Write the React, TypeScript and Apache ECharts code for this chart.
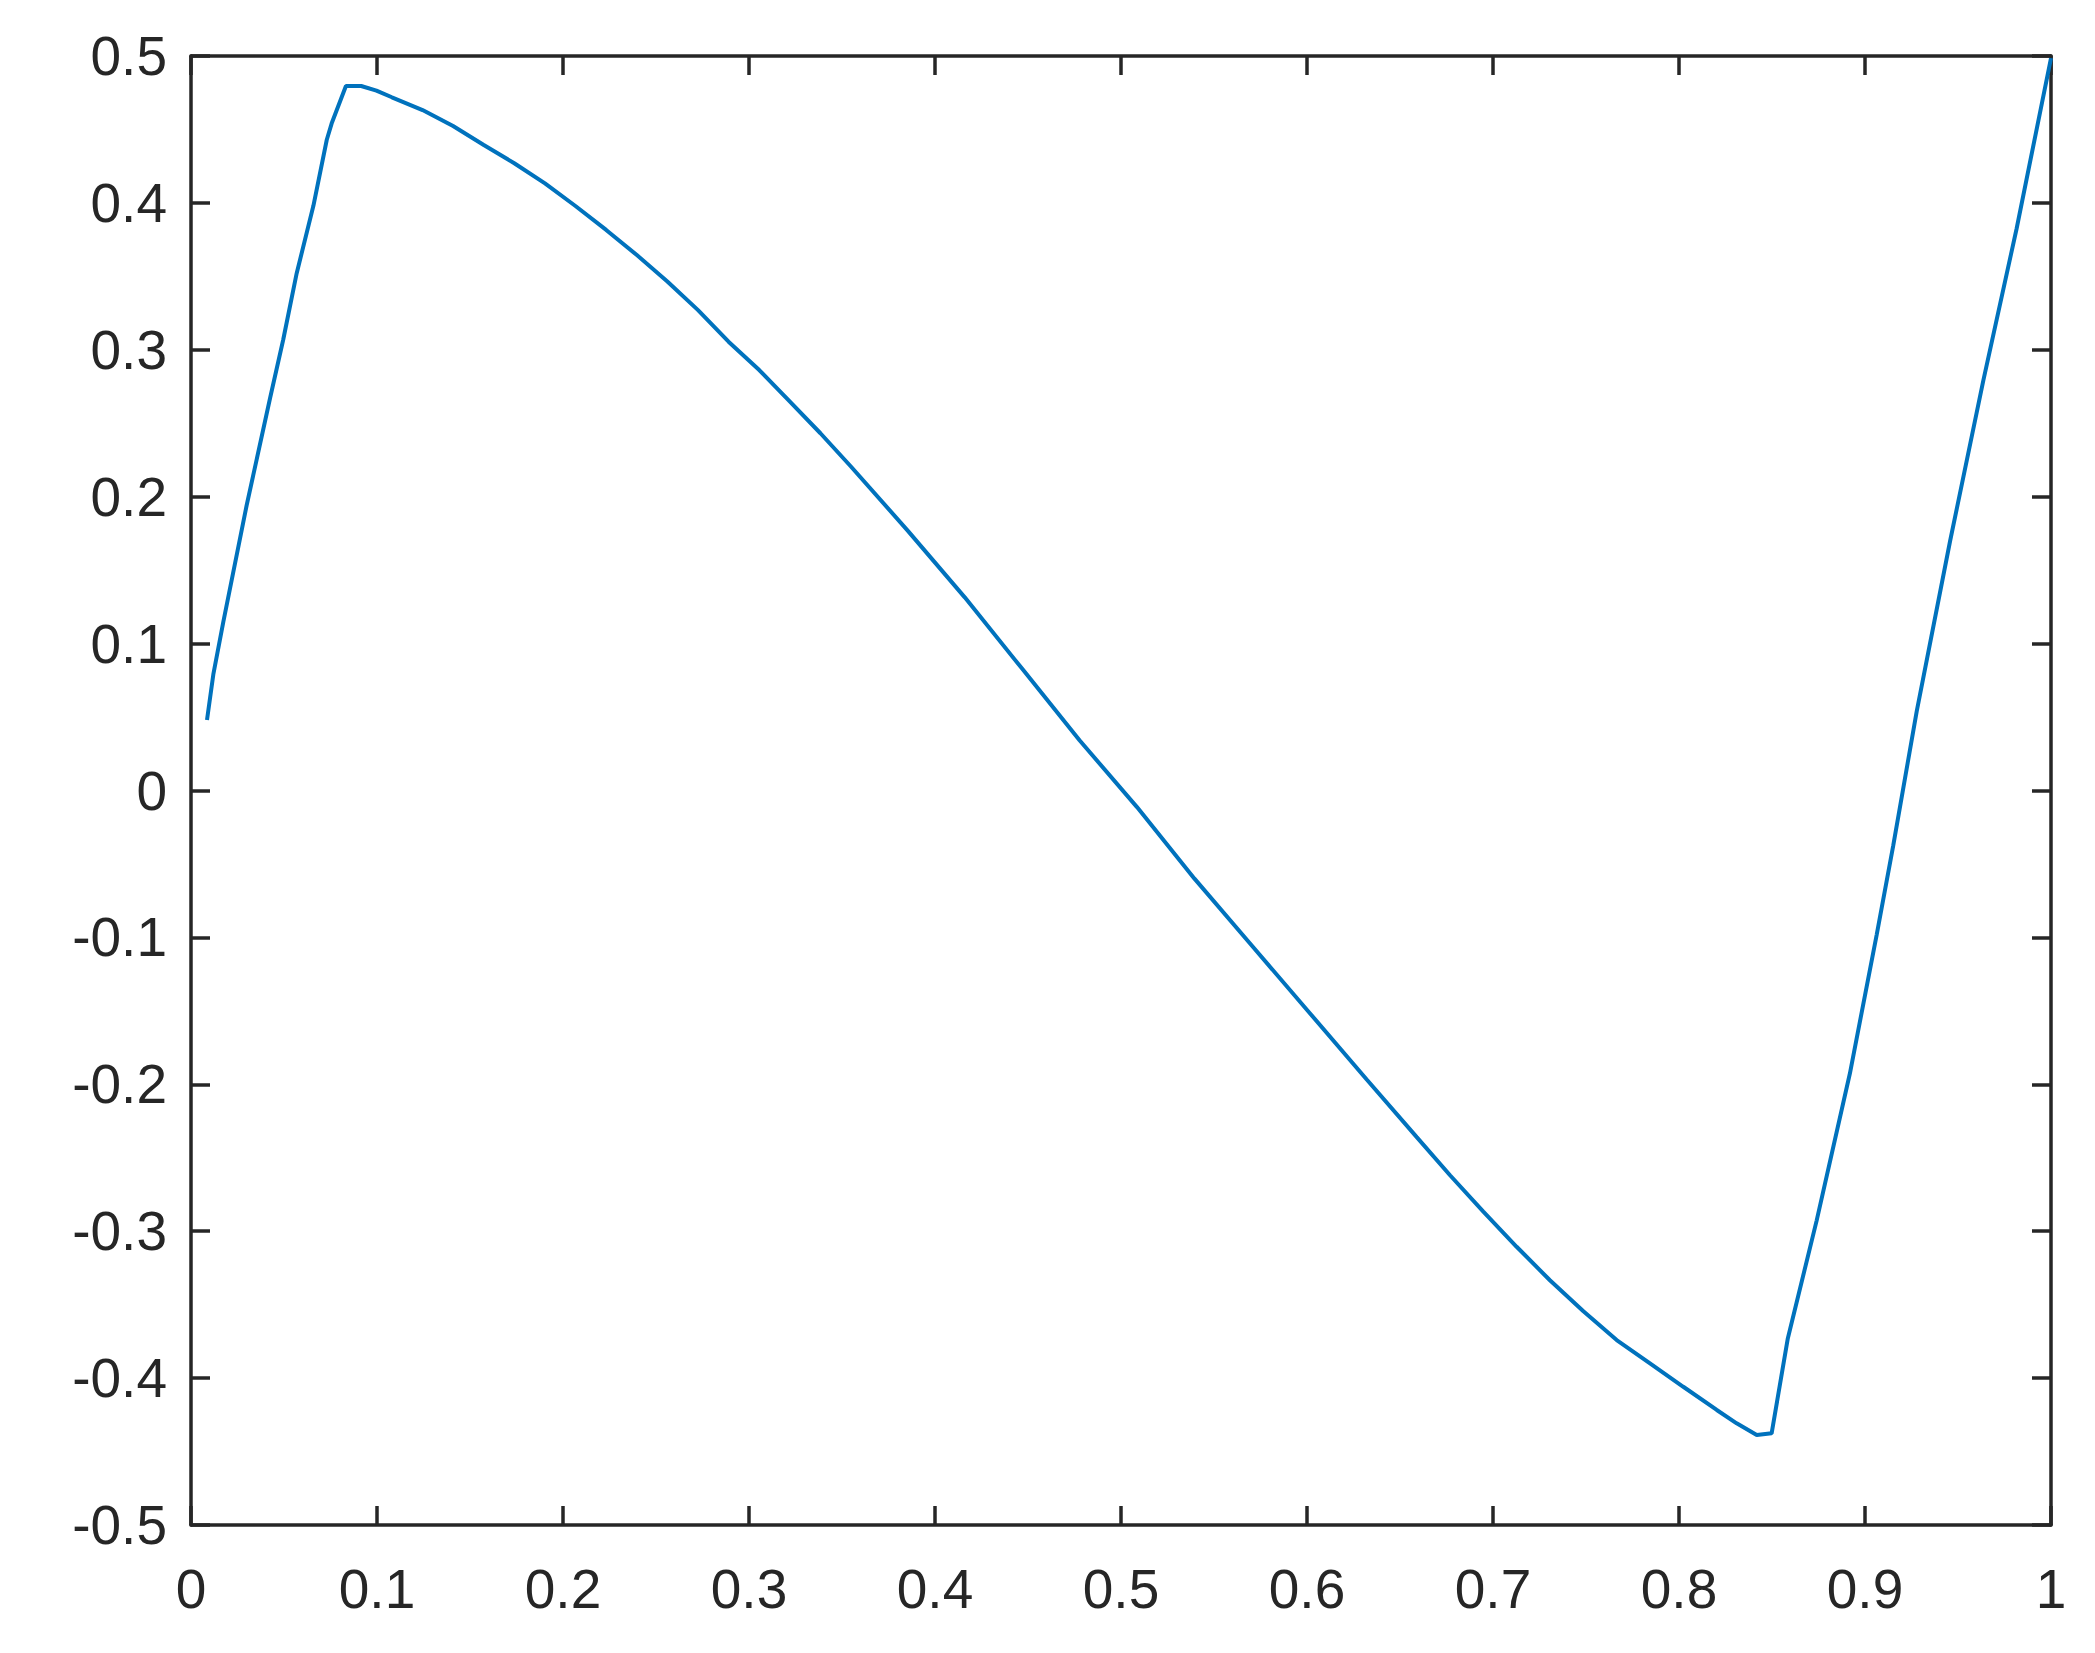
import React, { useEffect, useRef } from "react";
import * as echarts from "echarts";

const xValues = [
  0.0086, 0.012, 0.0174, 0.0299, 0.0425, 0.0496, 0.0568, 0.0658, 0.073, 0.0756,
  0.0833, 0.0915, 0.0997, 0.108, 0.1245, 0.1409, 0.1574, 0.1738, 0.1903, 0.2067,
  0.2232, 0.2397, 0.2561, 0.2726, 0.289, 0.3055, 0.322, 0.3384, 0.3549, 0.3852,
  0.416, 0.4469, 0.4777, 0.5086, 0.5395, 0.5703, 0.6012, 0.6321, 0.659, 0.6769,
  0.6948, 0.7127, 0.7306, 0.7486, 0.7665, 0.7844, 0.8023, 0.8203, 0.831, 0.8418,
  0.8498, 0.8585, 0.874, 0.8919, 0.9063, 0.9152, 0.9278, 0.9457, 0.9636, 0.9815,
  1.0,
];

const yValues = [
  0.048, 0.079, 0.115, 0.194, 0.267, 0.307, 0.352, 0.398, 0.443, 0.454,
  0.4796, 0.4796, 0.4764, 0.4719, 0.4632, 0.4523, 0.4394, 0.427, 0.4133, 0.3979,
  0.3816, 0.3645, 0.3465, 0.327, 0.3055, 0.2862, 0.2647, 0.2432, 0.2204, 0.1771,
  0.1315, 0.0828, 0.0342, -0.0113, -0.06, -0.1055, -0.1511, -0.1967, -0.236, -0.2619,
  -0.2867, -0.3106, -0.3334, -0.3545, -0.3741, -0.39, -0.4059, -0.4217, -0.4308, -0.4388,
  -0.4376, -0.373, -0.2928, -0.1925, -0.0981, -0.0374, 0.0539, 0.1695, 0.279, 0.3824,
  0.4985,
];

const xTicks = { min: 0, max: 1, interval: 0.1 };
const yTicks = { min: -0.5, max: 0.5, interval: 0.1 };

const AXIS_COLOR = "#262626";
const LINE_COLOR = "#0072BD";
const FONT = "'Liberation Sans', Arial, Helvetica, sans-serif";

export default function App() {
  const ref = useRef<HTMLDivElement>(null);

  useEffect(() => {
    if (!ref.current) return;
    const chart = echarts.init(ref.current, null, { renderer: "svg" });
    const axisLine = { show: true, onZero: false, lineStyle: { color: AXIS_COLOR, width: 3.5 } };
    const axisTick = { show: true, inside: true, length: 19, lineStyle: { color: AXIS_COLOR, width: 3.5 } };
    const label = { color: AXIS_COLOR, fontSize: 55, fontFamily: FONT };
    const fmt = (v: number) => {
      const r = Math.round(v * 10) / 10;
      if (r === 0) return "0";
      if (r === 1) return "1";
      return r.toFixed(1);
    };
    const data = xValues.map((x, i) => [x, yValues[i]]);
    chart.setOption({
      animation: false,
      backgroundColor: "#ffffff",
      grid: { left: 191, right: 44, top: 56, bottom: 128, containLabel: false },
      xAxis: [
        {
          type: "value",
          position: "bottom",
          ...xTicks,
          axisLine,
          axisTick,
          splitLine: { show: false },
          axisLabel: { ...label, margin: 36, formatter: fmt },
        },
        {
          type: "value",
          position: "top",
          ...xTicks,
          axisLine,
          axisTick,
          splitLine: { show: false },
          axisLabel: { show: false },
        },
      ],
      yAxis: [
        {
          type: "value",
          position: "left",
          ...yTicks,
          axisLine,
          axisTick,
          splitLine: { show: false },
          axisLabel: { ...label, margin: 24, formatter: fmt },
        },
        {
          type: "value",
          position: "right",
          ...yTicks,
          axisLine,
          axisTick,
          splitLine: { show: false },
          axisLabel: { show: false },
        },
      ],
      series: [
        {
          type: "line",
          xAxisIndex: 0,
          yAxisIndex: 0,
          data,
          showSymbol: false,
          symbol: "none",
          smooth: false,
          lineStyle: { color: LINE_COLOR, width: 4 },
        },
      ],
    });
    return () => chart.dispose();
  }, []);

  return (
    <div
      ref={ref}
      style={{ position: "absolute", left: 0, top: 0, width: 2095, height: 1653, background: "#fff" }}
    />
  );
}
